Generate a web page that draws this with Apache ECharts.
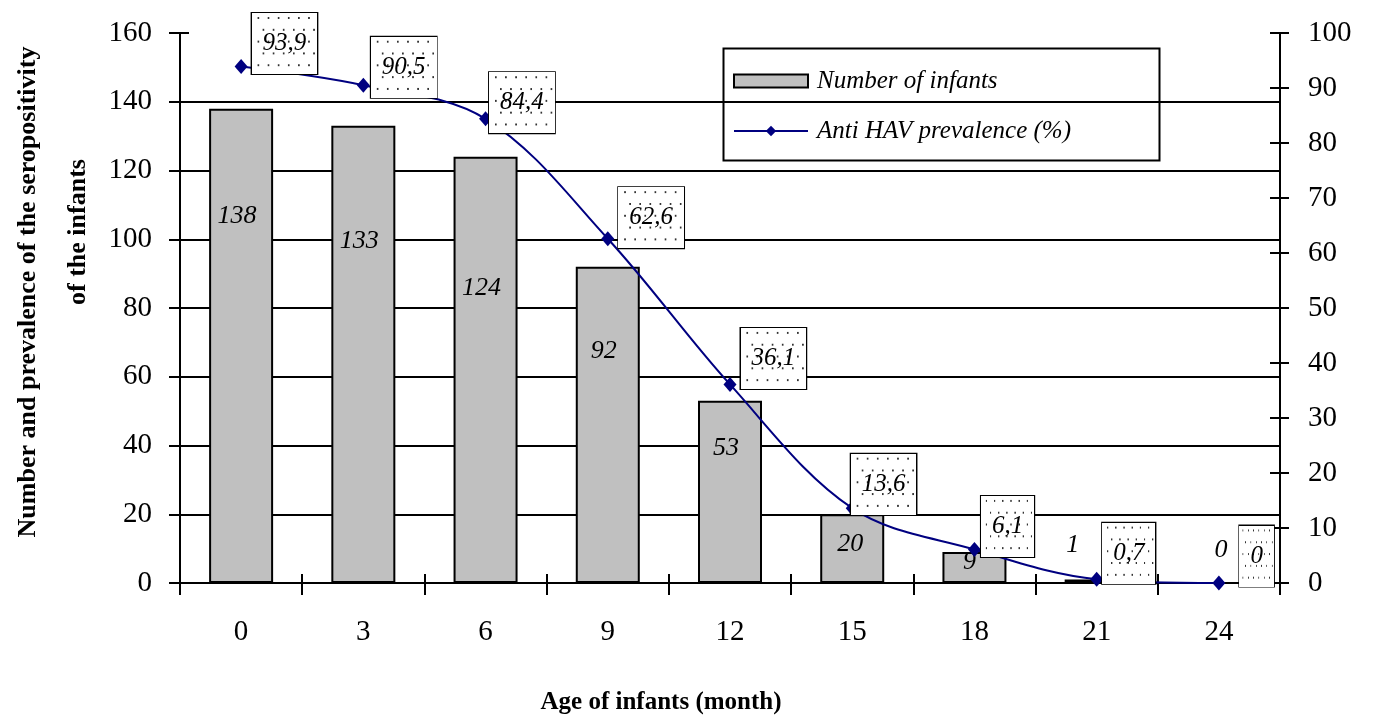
<!DOCTYPE html>
<html>
<head>
<meta charset="utf-8">
<script src="https://cdn.jsdelivr.net/npm/echarts@6/dist/echarts.min.js"></script>
<style>
html,body{margin:0;padding:0;background:#fff;}
#chart{width:1374px;height:720px;}
</style>
</head>
<body>
<div id="chart"></div>
<script>
// ---- data ----
const categories = ['0', '3', '6', '9', '12', '15', '18', '21', '24'];
const infantCounts = [138, 133, 124, 92, 53, 20, 9, 1, 0];
const prevalence = [93.9, 90.5, 84.4, 62.6, 36.1, 13.6, 6.1, 0.7, 0];
const leftAxisTicks = { min: 0, max: 160, interval: 20 };
const rightAxisTicks = { min: 0, max: 100, interval: 10 };
const seriesNames = ['Number of infants', 'Anti HAV prevalence (%)'];
const axisTitleX = 'Age of infants (month)';
const axisTitleY = ['Number and prevalence of the seropositivity', 'of the infants'];

// ---- styling (label nudges, not data) ----
const barLabelShift = [[-4, 90], [-4, 97], [-4, 113], [-4, 66], [-4, 29], [-2, 12], [-5, -8], [-24, -52], [2, -50]];
const lineLabelShift = [[0, -23], [-3, -18], [-7, -16], [0, -21], [0, -26], [-12, -24], [-4, -23], [-5, -26], [10, -27]];

const serif = '"Liberation Serif", "Times New Roman", serif';

// dotted background for the line labels
const dots = document.createElement('canvas');
dots.width = 78; dots.height = 62;
(function () {
  const c = dots.getContext('2d');
  c.fillStyle = '#fff';
  c.fillRect(0, 0, 78, 62);
  c.fillStyle = '#333';
  for (let y = 4; y < 62; y += 12) {
    for (let x = 5 + ((y / 12) % 2) * 6; x < 78; x += 12) {
      c.fillRect(x, y, 2, 2);
    }
  }
})();

const chart = echarts.init(document.getElementById('chart'));

const tickLabel = { fontFamily: serif, fontSize: 29, color: '#000' };
const blackLine = { color: '#000', width: 2 };

const option = {
  animation: false,
  backgroundColor: '#fff',
  grid: { left: 180, right: 94, top: 33, bottom: 137 },
  legend: {
    orient: 'vertical',
    left: 728,
    top: 62,
    itemWidth: 74,
    itemHeight: 13,
    itemGap: 22,
    textStyle: { fontFamily: serif, fontStyle: 'italic', fontSize: 25, color: '#000', lineHeight: 28, padding: [0, 0, 0, 4] },
    data: [{ name: seriesNames[0], icon: 'rect' }, { name: seriesNames[1] }]
  },
  graphic: [
    { type: 'rect', left: 721, top: 46, shape: { width: 436, height: 112 }, style: { fill: 'none', stroke: '#000', lineWidth: 2 }, z: 0 },
    { type: 'text', x: 661, y: 703, style: { text: axisTitleX, font: 'bold 25px ' + serif, fill: '#000', textAlign: 'center', textVerticalAlign: 'middle' } },
    { type: 'text', x: 28, y: 292, rotation: Math.PI / 2, style: { text: axisTitleY[0], font: 'bold 26px ' + serif, fill: '#000', textAlign: 'center', textVerticalAlign: 'middle' } },
    { type: 'text', x: 78, y: 232, rotation: Math.PI / 2, style: { text: axisTitleY[1], font: 'bold 26px ' + serif, fill: '#000', textAlign: 'center', textVerticalAlign: 'middle' } }
  ],
  xAxis: [
    {
      type: 'category', data: categories, boundaryGap: true,
      axisLine: { lineStyle: blackLine },
      axisTick: { show: true, length: 12, lineStyle: blackLine, alignWithLabel: false },
      axisLabel: Object.assign({ margin: 35 }, tickLabel),
      splitLine: { show: false }
    },
    {
      type: 'category', data: categories, boundaryGap: true, position: 'bottom',
      axisLine: { show: false },
      axisTick: { show: true, inside: true, length: 9, lineStyle: blackLine },
      axisLabel: { show: false }, splitLine: { show: false }
    }
  ],
  yAxis: [
    {
      type: 'value', position: 'left', min: leftAxisTicks.min, max: leftAxisTicks.max, interval: leftAxisTicks.interval,
      axisLine: { show: true, lineStyle: blackLine },
      axisTick: { show: true, length: 11, lineStyle: blackLine },
      axisLabel: Object.assign({ margin: 28 }, tickLabel),
      splitLine: { show: true, showMinLine: false, showMaxLine: false, lineStyle: blackLine }
    },
    {
      type: 'value', position: 'right', min: rightAxisTicks.min, max: rightAxisTicks.max, interval: rightAxisTicks.interval,
      axisLine: { show: true, lineStyle: blackLine },
      axisTick: { show: true, length: 9, lineStyle: blackLine },
      axisLabel: Object.assign({ margin: 28 }, tickLabel),
      splitLine: { show: false }
    },
    {
      type: 'value', position: 'left', min: leftAxisTicks.min, max: leftAxisTicks.max, interval: leftAxisTicks.interval,
      axisLine: { show: false },
      axisTick: { show: true, inside: true, length: 9, lineStyle: blackLine },
      axisLabel: { show: false }, splitLine: { show: false }
    },
    {
      type: 'value', position: 'right', min: rightAxisTicks.min, max: rightAxisTicks.max, interval: rightAxisTicks.interval,
      axisLine: { show: false },
      axisTick: { show: true, inside: true, length: 10, lineStyle: blackLine },
      axisLabel: { show: false }, splitLine: { show: false }
    }
  ],
  series: [
    {
      name: seriesNames[0],
      type: 'bar',
      xAxisIndex: 0,
      yAxisIndex: 0,
      barWidth: 64,
      itemStyle: { color: '#c0c0c0', borderColor: '#000', borderWidth: 2 },
      label: {
        show: true, position: 'insideTop', distance: 5,
        fontFamily: serif, fontStyle: 'italic', fontSize: 26, color: '#000'
      },
      data: infantCounts.map((v, i) => ({ value: v, label: { offset: barLabelShift[i] } })),
      z: 2
    },
    {
      name: seriesNames[1],
      type: 'line',
      xAxisIndex: 0,
      yAxisIndex: 1,
      smooth: 0.35,
      symbol: 'diamond',
      symbolSize: [13, 15],
      lineStyle: { color: '#000080', width: 2 },
      itemStyle: { color: '#000080' },
      label: {
        show: true, position: 'right', distance: 4,
        formatter: p => String(p.value).replace('.', ','),
        fontFamily: serif, fontStyle: 'italic', fontSize: 25, lineHeight: 25, color: '#000',
        backgroundColor: { image: dots },
        borderColor: '#000', borderWidth: 2,
        padding: [18, 11]
      },
      data: prevalence.map((v, i) => ({ value: v, label: { offset: lineLabelShift[i] } })),
      z: 5
    }
  ]
};

chart.setOption(option);
</script>
</body>
</html>
